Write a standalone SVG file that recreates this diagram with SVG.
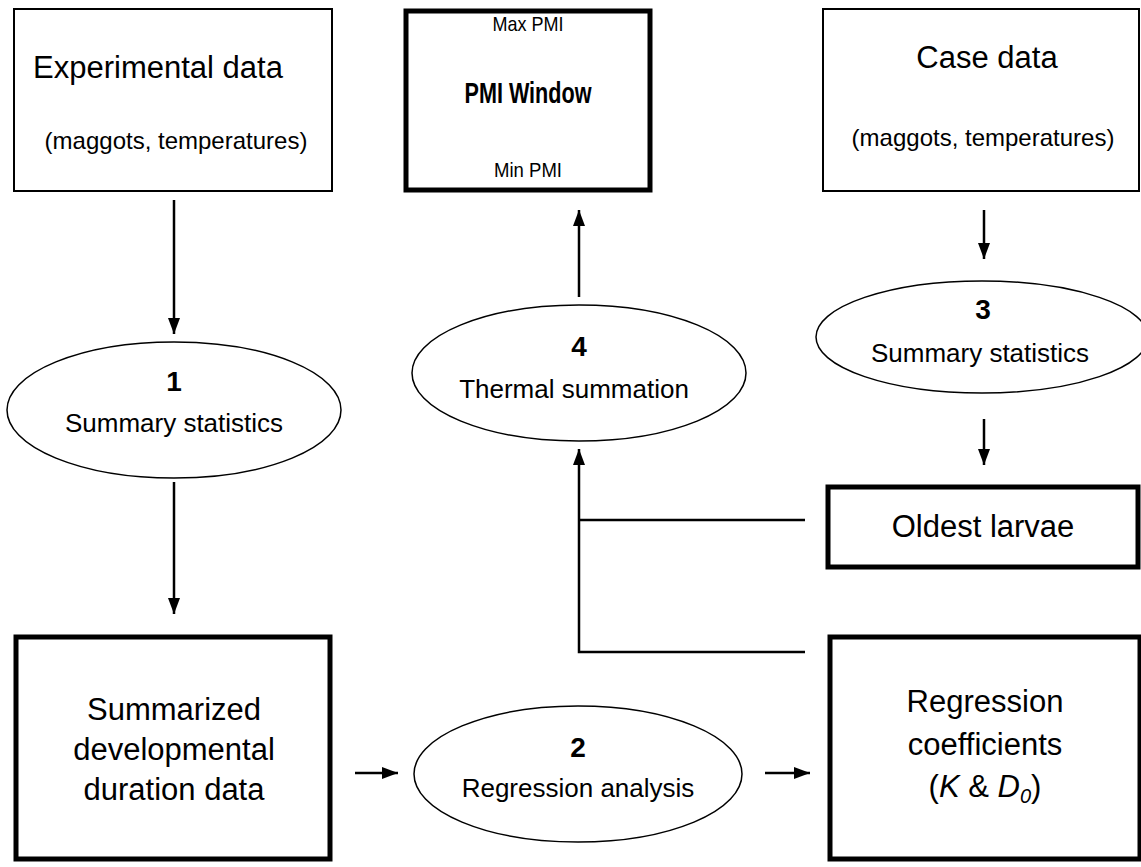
<svg xmlns="http://www.w3.org/2000/svg" width="1141" height="867" viewBox="0 0 1141 867">
<defs>
<marker id="ah" viewBox="0 0 16 12" refX="16" refY="6" markerWidth="16" markerHeight="12" markerUnits="userSpaceOnUse" orient="auto">
<path d="M0,0 L16,6 L0,12 z" fill="#000"/>
</marker>
</defs>
<style>
text{font-family:"Liberation Sans",Arial,sans-serif;fill:#000;text-anchor:middle}
.thin{fill:#fff;stroke:#000;stroke-width:2}
.thick{fill:#fff;stroke:#000;stroke-width:5}
.ell{fill:#fff;stroke:#000;stroke-width:1.5}
.h{font-size:31px}
.s{font-size:24px}
.e{font-size:26px}
.n{font-size:28px;font-weight:bold}
.p{font-size:21px}
.conn line,.conn polyline{stroke:#000;stroke-width:2.5;fill:none}
</style>
<rect width="1141" height="867" fill="#fff"/>

<g class="conn">
<line x1="174" y1="200" x2="174" y2="334" marker-end="url(#ah)"/>
<line x1="174" y1="482" x2="174" y2="614" marker-end="url(#ah)"/>
<line x1="355" y1="773" x2="398" y2="773" marker-end="url(#ah)"/>
<line x1="765" y1="773" x2="810" y2="773" marker-end="url(#ah)"/>
<line x1="579" y1="297" x2="579" y2="210" marker-end="url(#ah)"/>
<line x1="984" y1="210" x2="984" y2="259" marker-end="url(#ah)"/>
<line x1="984" y1="419" x2="984" y2="465" marker-end="url(#ah)"/>
<polyline points="805,652 579,652 579,449" marker-end="url(#ah)"/>
<line x1="579" y1="520" x2="805" y2="520"/>
</g>

<g id="experimental-data">
<rect class="thin" x="14" y="9" width="318" height="182"/>
<text class="h" x="158" y="78">Experimental data</text>
<text class="s" x="176" y="149">(maggots, temperatures)</text>
</g>

<g id="pmi-window">
<rect x="406" y="11" width="244" height="179" fill="#fff" stroke="#000" stroke-width="5"/>
<text class="p" x="528" y="31" textLength="71" lengthAdjust="spacingAndGlyphs">Max PMI</text>
<text x="528" y="103" textLength="127" lengthAdjust="spacingAndGlyphs" style="font-size:29px;font-weight:bold">PMI Window</text>
<text class="p" x="528" y="177" textLength="68" lengthAdjust="spacingAndGlyphs">Min PMI</text>
</g>

<g id="case-data">
<rect class="thin" x="823" y="9" width="316" height="182"/>
<text class="h" x="987" y="68">Case data</text>
<text class="s" x="983" y="146">(maggots, temperatures)</text>
</g>

<g id="summary-1">
<ellipse class="ell" cx="174" cy="410" rx="167" ry="68"/>
<text class="n" x="174" y="391">1</text>
<text class="e" x="174" y="432">Summary statistics</text>
</g>

<g id="thermal-4">
<ellipse class="ell" cx="579" cy="373" rx="167" ry="68"/>
<text class="n" x="579" y="356">4</text>
<text class="e" x="574" y="398">Thermal summation</text>
</g>

<g id="summary-3">
<ellipse class="ell" cx="982" cy="337" rx="166" ry="56"/>
<text class="n" x="983" y="319">3</text>
<text class="e" x="980" y="362">Summary statistics</text>
</g>

<g id="oldest-larvae">
<rect class="thick" x="828" y="487" width="310" height="80"/>
<text class="h" x="983" y="537">Oldest larvae</text>
</g>

<g id="summarized">
<rect class="thick" x="16" y="637" width="314" height="222"/>
<text class="h" x="174" y="720">Summarized</text>
<text class="h" x="174" y="760">developmental</text>
<text class="h" x="174" y="800">duration data</text>
</g>

<g id="regression-2">
<ellipse class="ell" cx="578" cy="774" rx="164" ry="68"/>
<text class="n" x="578" y="757">2</text>
<text class="e" x="578" y="797">Regression analysis</text>
</g>

<g id="regression-coefficients">
<rect class="thick" x="830" y="637" width="310" height="222"/>
<text class="h" x="985" y="712">Regression</text>
<text class="h" x="985" y="755">coefficients</text>
<text class="h" x="985" y="797">(<tspan font-style="italic">K</tspan> &amp; <tspan font-style="italic">D<tspan font-size="20px" dy="6">0</tspan></tspan><tspan dy="-6">)</tspan></text>
</g>
</svg>
